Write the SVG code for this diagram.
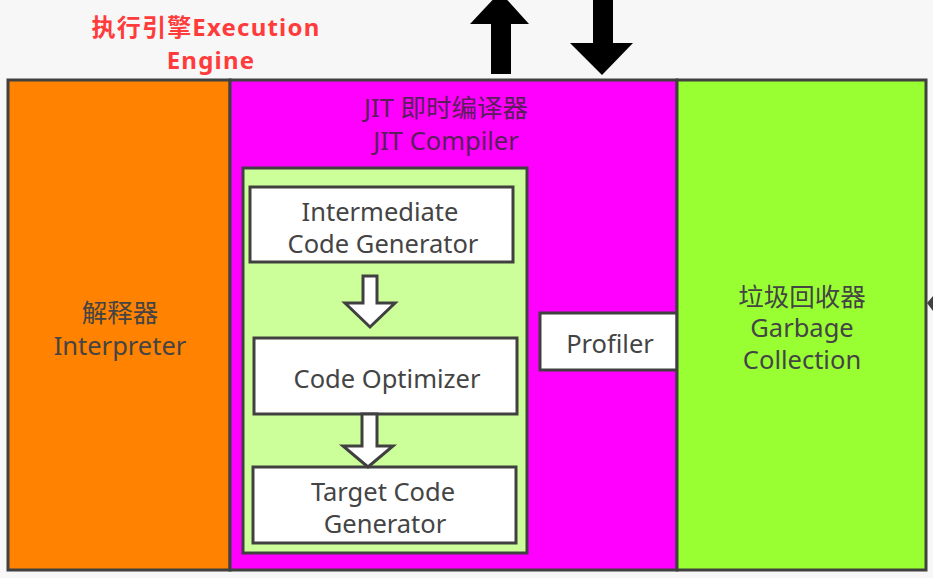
<svg xmlns="http://www.w3.org/2000/svg" width="933" height="578" viewBox="0 0 933 578">
  <style>
    .frame { stroke: #404040; stroke-width: 3; }
    .box { fill: #ffffff; stroke: #404040; stroke-width: 3; }
    .label { font-family: "Noto Sans", "Noto Sans CJK SC", sans-serif; font-size: 25.5px; fill: #444444; text-anchor: middle; }
    .jit { fill: #5a1f5a; }
    .title { font-family: "Noto Sans", "Noto Sans CJK SC", sans-serif; font-size: 24px; font-weight: bold; fill: #ff3b3b; text-anchor: middle; letter-spacing: 1.2px; }
    .flow { fill: #ffffff; stroke: #404040; stroke-width: 3; stroke-linejoin: miter; }
  </style>
  <rect width="933" height="578" fill="#f7f7f7"/>

  <g id="title">
    <text class="title" x="206" y="36">执行引擎Execution</text>
    <text class="title" x="211" y="69">Engine</text>
  </g>

  <g id="interpreter">
    <rect class="frame" x="8" y="80" width="222" height="490" fill="#ff8200"/>
    <text class="label" x="120" y="322">解释器</text>
    <text class="label" x="120" y="355">Interpreter</text>
  </g>

  <g id="jit-compiler">
    <rect class="frame" x="230" y="80" width="447" height="490" fill="#ff00ff"/>
    <text class="label jit" x="446" y="117">JIT 即时编译器</text>
    <text class="label jit" x="446" y="150">JIT Compiler</text>
    <rect class="frame" x="243" y="168" width="284" height="385" fill="#ccff99"/>
  </g>

  <g id="intermediate-code-generator">
    <rect class="box" x="250" y="187" width="263" height="75"/>
    <text class="label" x="380" y="221">Intermediate</text>
    <text class="label" x="383" y="253">Code Generator</text>
  </g>

  <g id="code-optimizer">
    <rect class="box" x="254" y="338" width="263" height="76"/>
    <text class="label" x="387" y="388">Code Optimizer</text>
  </g>

  <g id="target-code-generator">
    <rect class="box" x="253" y="467" width="263" height="76"/>
    <text class="label" x="383" y="501">Target Code</text>
    <text class="label" x="385" y="533">Generator</text>
  </g>

  <g id="profiler">
    <rect class="box" x="540" y="313" width="137" height="57"/>
    <text class="label" x="610" y="353">Profiler</text>
  </g>

  <g id="garbage-collection">
    <rect class="frame" x="677" y="80" width="249" height="490" fill="#99ff33"/>
    <text class="label" x="802" y="306">垃圾回收器</text>
    <text class="label" x="802" y="337">Garbage</text>
    <text class="label" x="802" y="369">Collection</text>
  </g>

  <g id="connectors">
    <!-- flow arrows between compiler stages -->
    <path class="flow" d="M363,276 H377 V303 H395 L370,327 L345,303 H363 Z"/>
    <path class="flow" d="M362,414 H377 V446 H393 L368,467 L343,446 H362 Z"/>
    <!-- data in and out at the top -->
    <path fill="#000000" d="M491,74 V24 H470 L500,-8 L529,24 H511 V74 Z"/>
    <path fill="#000000" d="M593,0 H613 V43 H633 L602,75 L570,43 H593 Z"/>
    <!-- arrow entering from the right -->
    <path fill="#404040" d="M933,296 L927,303 L933,311 Z"/>
  </g>
</svg>
